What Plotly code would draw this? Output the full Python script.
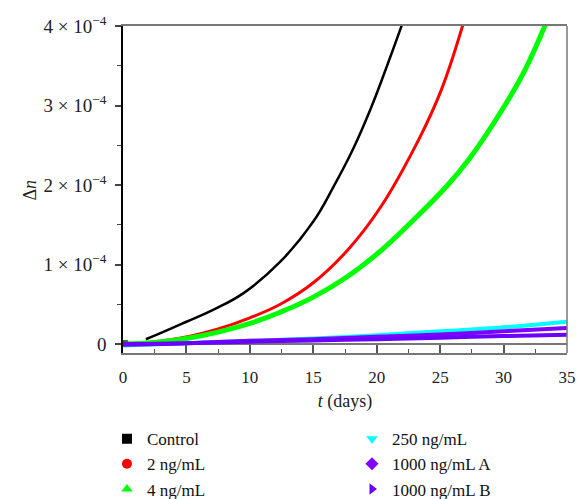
import numpy as np
import plotly.graph_objects as go

# values in units of 1e-4
control_x = [0, 0.4, None, 1.8, 3, 5, 7.1, 9.5, 12.4, 15, 16.6, 18.1, 19.5, 20.7, 22.0]
control_y = [0.03, 0.03, None, 0.06, 0.14, 0.28, 0.43, 0.64, 1.035, 1.54, 1.98, 2.44, 2.95, 3.45, 4.02]

ng2_x = [0, 2.5, 5, 7.5, 10, 12.4, 15, 17.7, 20.3, 23.4, 25.1, 26.8]
ng2_y = [0.0, 0.03, 0.09, 0.19, 0.33, 0.50, 0.77, 1.18, 1.72, 2.6, 3.2, 4.02]

ng4_x = [0, 2.5, 5, 7.5, 10, 12.4, 15, 17.7, 20.3, 22.9, 25.6, 27.3, 29.9, 31.6, 33.3]
ng4_y = [0.0, 0.02, 0.07, 0.15, 0.26, 0.40, 0.59, 0.85, 1.17, 1.56, 2.0, 2.33, 2.95, 3.42, 4.02]

ng250_x = [0, 5, 10, 15, 20, 25, 30, 35]
ng250_y = [-0.02, 0.01, 0.04, 0.07, 0.11, 0.16, 0.21, 0.28]

ng1000a_x = [0, 5, 10, 15, 20, 25, 30, 35]
ng1000a_y = [-0.01, 0.01, 0.04, 0.06, 0.09, 0.12, 0.16, 0.20]

ng1000b_x = [0, 5, 10, 15, 20, 25, 30, 35]
ng1000b_y = [0.0, 0.01, 0.03, 0.045, 0.06, 0.08, 0.10, 0.115]

x_ticks = [0, 5, 10, 15, 20, 25, 30, 35]
y_ticks = [0, 1, 2, 3, 4]
y_ticktext = ["0", "1 × 10<sup>−4</sup>", "2 × 10<sup>−4</sup>", "3 × 10<sup>−4</sup>", "4 × 10<sup>−4</sup>"]

SCALE = 1e-4
FONT = "Liberation Serif"

series = [
    ("Control", control_x, control_y, "#000000", "square", 2.5, "legend"),
    ("2 ng/mL", ng2_x, ng2_y, "#ff0000", "circle", 3, "legend"),
    ("4 ng/mL", ng4_x, ng4_y, "#00ff00", "triangle-up", 5, "legend"),
    ("250 ng/mL", ng250_x, ng250_y, "#00ffff", "triangle-down", 4, "legend2"),
    ("1000 ng/mL A", ng1000a_x, ng1000a_y, "#8000ff", "diamond", 4, "legend2"),
    ("1000 ng/mL B", ng1000b_x, ng1000b_y, "#6a00ff", "triangle-right", 4, "legend2"),
]

fig = go.Figure()
for name, xs, ys, color, sym, lw, leg in series:
    yv = [None if v is None else v * SCALE for v in ys]
    fig.add_trace(go.Scatter(x=xs, y=yv, mode="lines", name=name,
                             line=dict(color=color, width=lw, shape="spline", smoothing=1.2),
                             showlegend=False, connectgaps=False))
for name, xs, ys, color, sym, lw, leg in series:
    fig.add_trace(go.Scatter(x=[None], y=[None], mode="markers", name=name,
                             marker=dict(color=color, symbol=sym, size=10),
                             showlegend=True, legend=leg))

legend_font = dict(family=FONT, size=17, color="#111")
fig.update_layout(
    width=577, height=499,
    margin=dict(l=123, r=10, t=26, b=146, autoexpand=False),
    paper_bgcolor="white", plot_bgcolor="white",
    font=dict(family=FONT, size=17, color="#222"),
    showlegend=True,
    legend=dict(xref="container", yref="container", x=0.1854, y=0.156,
                xanchor="left", yanchor="top", font=legend_font, bgcolor="rgba(0,0,0,0)"),
    legend2=dict(xref="container", yref="container", x=0.6100, y=0.156,
                 xanchor="left", yanchor="top", font=legend_font, bgcolor="rgba(0,0,0,0)"),
    xaxis=dict(range=[0, 35], tickvals=x_ticks, ticks="inside", ticklen=8, tickwidth=1.5,
               tickcolor="#555", showline=True, linecolor="#777", linewidth=1.5, mirror=True,
               showgrid=False, zeroline=False, ticklabelstandoff=8, automargin=False,
               minor=dict(dtick=2.5, ticks="inside", ticklen=4, tickcolor="#555", tickwidth=1.2),
               title=dict(text="<i>t</i> (days)", font=dict(family=FONT, size=18), standoff=8)),
    yaxis=dict(range=[-0.113 * SCALE, 4 * SCALE],
               tickvals=[v * SCALE for v in y_ticks], ticktext=y_ticktext,
               tickfont=dict(family=FONT, size=19), ticklabelstandoff=5,
               ticks="outside", ticklen=6, tickwidth=1.5, tickcolor="#444",
               showline=True, linecolor="#000", linewidth=1.5, mirror=False,
               showgrid=False, zeroline=True, zerolinecolor="#777", zerolinewidth=1.5,
               automargin=False,
               minor=dict(dtick=0.5 * SCALE, ticks="outside", ticklen=4, tickcolor="#444", tickwidth=1.2)),
    annotations=[dict(text="Δ<i>n</i>", xref="paper", yref="paper", x=-0.2095, y=0.5,
                      xanchor="center", yanchor="middle", textangle=-90, showarrow=False,
                      font=dict(family=FONT, size=18, color="#222"))],
    shapes=[dict(type="line", xref="paper", yref="paper", x0=1, x1=1, y0=0, y1=1,
                 line=dict(color="#777", width=1.5))],
)

fig.write_html("out.html",
               config={"displayModeBar": False},
               post_script="document.body.style.margin='0';"
                           "document.body.style.overflow='hidden';"
                           "document.documentElement.style.overflow='hidden';")
